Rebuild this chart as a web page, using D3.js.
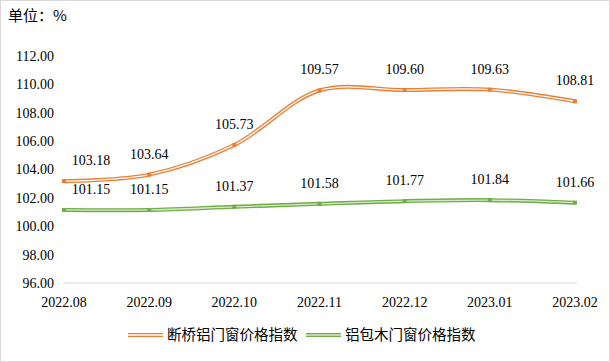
<!DOCTYPE html>
<html>
<head>
<meta charset="utf-8">
<script src="https://cdn.jsdelivr.net/npm/d3@7"></script>
<style>
  body { margin: 0; background: #fff; }
  svg { display: block; }
  .num { font-family: "Times New Roman", "Liberation Serif", "DejaVu Serif", serif; font-size: 14px; }
  .cjk { font-family: "Noto Sans CJK SC", sans-serif; }
</style>
</head>
<body>
<div id="chart"></div>
<script>
// data
const months = ["2022.08", "2022.09", "2022.10", "2022.11", "2022.12", "2023.01", "2023.02"];
const bridgeAl = [103.18, 103.64, 105.73, 109.57, 109.60, 109.63, 108.81];
const alWood = [101.15, 101.15, 101.37, 101.58, 101.77, 101.84, 101.66];
const yTicks = [96, 98, 100, 102, 104, 106, 108, 110, 112];
const seriesNames = ["断桥铝门窗价格指数", "铝包木门窗价格指数"];

const width = 610, height = 362;

const svg = d3.select("#chart").append("svg")
    .attr("width", width)
    .attr("height", height);

// outer border
svg.append("rect")
    .attr("x", 0.5).attr("y", 0.5)
    .attr("width", width - 1).attr("height", height - 1)
    .attr("fill", "#fff")
    .attr("stroke", "#d9d9d9");

svg.append("text")
    .attr("class", "cjk")
    .attr("x", 8).attr("y", 21)
    .style("font-size", "15px")
    .attr("fill", "#000")
    .text("单位：%");

const x = d3.scalePoint().domain(months).range([64, 575]);
const y = d3.scaleLinear().domain([96, 112]).range([283, 56]);

// y labels
svg.selectAll(".ytick")
    .data(yTicks)
    .enter()
    .append("text")
    .attr("class", "ytick num")
    .attr("x", 54)
    .attr("y", d => y(d))
    .attr("dy", "0.35em")
    .attr("text-anchor", "end")
    .text(d => d.toFixed(2));

// category axis line
svg.append("line")
    .attr("x1", 64).attr("x2", 577)
    .attr("y1", y(96)).attr("y2", y(96))
    .attr("stroke", "#d9d9d9");

svg.selectAll(".xtick")
    .data(months)
    .enter()
    .append("text")
    .attr("class", "xtick num")
    .attr("x", d => x(d))
    .attr("y", 302)
    .attr("dy", "0.35em")
    .attr("text-anchor", "middle")
    .text(d => d);

const line = d3.line()
    .x((d, i) => x(months[i]))
    .y(d => y(d))
    .curve(d3.curveCatmullRom.alpha(0.5));

const series = [
    { name: seriesNames[0], values: bridgeAl, outer: "#ed7d31", inner: "#fff", mark: "#ed7d31" },
    { name: seriesNames[1], values: alWood, outer: "#70ad47", inner: "#d6e9c9", mark: "#70ad47" }
];

series.forEach(s => {
    // double (compound) line
    svg.append("path")
        .attr("d", line(s.values))
        .attr("fill", "none")
        .attr("stroke", s.outer)
        .attr("stroke-width", 4);
    svg.append("path")
        .attr("d", line(s.values))
        .attr("fill", "none")
        .attr("stroke", s.inner)
        .attr("stroke-width", 1.3);

    svg.selectAll(null)
        .data(s.values)
        .enter()
        .append("rect")
        .attr("x", (d, i) => x(months[i]) - 2)
        .attr("y", d => y(d) - 2)
        .attr("width", 4)
        .attr("height", 4)
        .attr("fill", s.mark);

    // labels kept inside the plot on the left, like excel does
    svg.selectAll(null)
        .data(s.values)
        .enter()
        .append("text")
        .attr("class", "num")
        .attr("x", (d, i) => Math.max(x(months[i]), 91))
        .attr("y", d => y(d) - 21)
        .attr("dy", "0.35em")
        .attr("text-anchor", "middle")
        .text(d => d.toFixed(2));
});

// legend
const legendX = [128, 306];
series.forEach((s, i) => {
    const g = svg.append("g").attr("transform", `translate(${legendX[i]},335)`);
    g.append("line").attr("x1", 0).attr("x2", 35)
        .attr("stroke", s.outer).attr("stroke-width", 4);
    g.append("line").attr("x1", 0).attr("x2", 35)
        .attr("stroke", s.inner).attr("stroke-width", 1.3);
    g.append("text")
        .attr("class", "cjk")
        .attr("x", 39)
        .attr("dy", "0.35em")
        .style("font-size", "14.5px")
        .text(s.name);
});
</script>
</body>
</html>
